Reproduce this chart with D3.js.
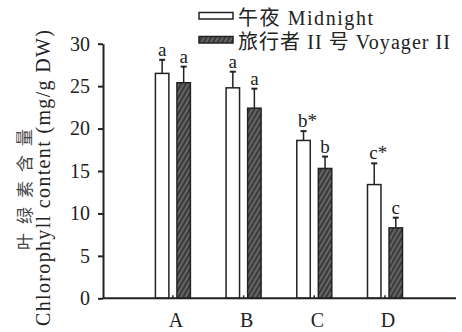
<!DOCTYPE html>
<html>
<head>
<meta charset="utf-8">
<script src="https://cdn.jsdelivr.net/npm/d3@7"></script>
<style>
	body { margin: 0; background: #fff; }
	svg { display: block; }
</style>
</head>
<body>
<svg id="chart" width="462" height="332"></svg>
<script>
// data
var categories = ['A', 'B', 'C', 'D'];
var seriesNames = ['午夜 Midnight', '旅行者 II 号 Voyager II'];
var midnight = [26.5, 24.8, 18.6, 13.4];
var midnightErr = [1.6, 1.9, 1.1, 2.5];
var voyager = [25.4, 22.4, 15.3, 8.3];
var voyagerErr = [1.9, 2.3, 1.4, 1.2];
var midnightLetters = ['a', 'a', 'b*', 'c*'];
var voyagerLetters = ['a', 'a', 'b', 'c'];
var yTicks = [0, 5, 10, 15, 20, 25, 30];

var FONT = "'Liberation Serif', 'Noto Sans CJK SC', serif",
	INK = '#222';

var svg = d3.select('#chart');

// hatch pattern for the second series
var pat = svg.append('defs').append('pattern')
	.attr('id', 'hatch')
	.attr('patternUnits', 'userSpaceOnUse')
	.attr('width', 4)
	.attr('height', 4)
	.attr('patternTransform', 'rotate(30)');
pat.append('rect').attr('width', 4).attr('height', 4).attr('fill', '#3a3a3a');
pat.append('line')
	.attr('x1', 1).attr('y1', 0).attr('x2', 1).attr('y2', 4)
	.attr('stroke', '#9a9a9a').attr('stroke-width', 0.9);

var xScale = d3.scalePoint()
		.domain(categories)
		.range([172.9, 385]),
	sub = d3.scaleBand()
		.domain([0, 1])
		.range([-17.5, 17.5])
		.paddingInner(0.375),
	yScale = d3.scaleLinear()
		.domain([0, 30])
		.range([298.3, 43.7]);

var rows = categories.map(function(c, i) {
	return [
		{ cat: c, s: 0, v: midnight[i], e: midnightErr[i], lab: midnightLetters[i] },
		{ cat: c, s: 1, v: voyager[i], e: voyagerErr[i], lab: voyagerLetters[i] }
	];
});
var flat = [].concat.apply([], rows);

var barX = function(d) { return xScale(d.cat) + sub(d.s); };
var barMid = function(d) { return barX(d) + sub.bandwidth() / 2; };

// error bars (upper only)
var eb = svg.append('g').selectAll('g').data(flat).enter().append('g');
eb.append('line')
	.attr('x1', barMid).attr('x2', barMid)
	.attr('y1', function(d) { return yScale(d.v); })
	.attr('y2', function(d) { return yScale(d.v + d.e); })
	.attr('stroke', INK).attr('stroke-width', 1.5);
eb.append('line')
	.attr('x1', function(d) { return barMid(d) - 3; })
	.attr('x2', function(d) { return barMid(d) + 3; })
	.attr('y1', function(d) { return yScale(d.v + d.e); })
	.attr('y2', function(d) { return yScale(d.v + d.e); })
	.attr('stroke', INK).attr('stroke-width', 2);

// bars
svg.append('g').selectAll('rect').data(flat).enter().append('rect')
	.attr('x', barX)
	.attr('y', function(d) { return yScale(d.v); })
	.attr('width', sub.bandwidth())
	.attr('height', function(d) { return yScale(0) - yScale(d.v); })
	.attr('fill', function(d) { return d.s === 0 ? '#fff' : 'url(#hatch)'; })
	.attr('stroke', INK)
	.attr('stroke-width', 1.5);

// significance letters
svg.append('g').selectAll('text').data(flat).enter().append('text')
	.attr('x', function(d) { return barMid(d) + (d.lab.length > 1 ? 4 : 0); })
	.attr('y', function(d) { return yScale(d.v + d.e) - 4; })
	.attr('text-anchor', 'middle')
	.style('font-family', FONT)
	.style('font-size', '19px')
	.style('fill', INK)
	.text(function(d) { return d.lab; });

// axes
var yAxis = d3.axisLeft(yScale).tickValues(yTicks).tickSize(5).tickPadding(8).tickSizeOuter(0);
var yg = svg.append('g')
	.attr('transform', 'translate(103,0)')
	.call(yAxis);
yg.selectAll('path, line').attr('stroke', INK).attr('stroke-width', 2);
yg.selectAll('text')
	.style('font-family', FONT)
	.style('font-size', '20px')
	.style('fill', INK);

svg.append('line')
	.attr('x1', 103).attr('x2', 456)
	.attr('y1', yScale(0)).attr('y2', yScale(0))
	.attr('stroke', INK).attr('stroke-width', 2);

// small marks between the two bars
svg.append('g').selectAll('line').data(categories).enter().append('line')
	.attr('x1', function(d) { return xScale(d); })
	.attr('x2', function(d) { return xScale(d); })
	.attr('y1', yScale(0)).attr('y2', yScale(0) - 3)
	.attr('stroke', INK).attr('stroke-width', 1.5);

svg.append('g').selectAll('text').data(categories).enter().append('text')
	.attr('x', function(d) { return xScale(d) + 3; })
	.attr('y', 327)
	.attr('text-anchor', 'middle')
	.style('font-family', FONT)
	.style('font-size', '20px')
	.style('fill', INK)
	.text(function(d) { return d; });

// y axis title
svg.append('text')
	.attr('transform', 'translate(31,185) rotate(-90)')
	.attr('text-anchor', 'middle')
	.style('font-family', FONT)
	.style('font-size', '17px')
	.style('letter-spacing', '9px')
	.style('fill', '#444')
	.text('叶绿素含量');
svg.append('text')
	.attr('transform', 'translate(50,178) rotate(-90)')
	.attr('text-anchor', 'middle')
	.attr('textLength', 296)
	.attr('lengthAdjust', 'spacing')
	.style('font-family', FONT)
	.style('font-size', '20px')
	.style('fill', INK)
	.text('Chlorophyll content (mg/g DW)');

// legend
var legend = svg.append('g').selectAll('g').data(seriesNames).enter().append('g')
	.attr('transform', function(d, i) { return 'translate(199,' + (12.5 + i * 24) + ')'; });
legend.append('rect')
	.attr('width', 34).attr('height', 6.5)
	.attr('fill', function(d, i) { return i === 0 ? '#fff' : 'url(#hatch)'; })
	.attr('stroke', INK).attr('stroke-width', 1.5);
legend.append('text')
	.attr('x', 39).attr('y', 12.5)
	.attr('textLength', function(d, i) { return i === 0 ? 135 : 212; })
	.attr('lengthAdjust', 'spacing')
	.style('font-family', FONT)
	.style('font-size', '20px')
	.style('fill', INK)
	.text(function(d) { return d; });
</script>
</body>
</html>
